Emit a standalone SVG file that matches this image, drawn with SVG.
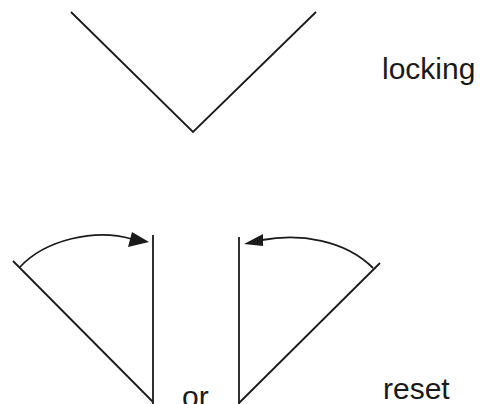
<svg xmlns="http://www.w3.org/2000/svg" width="482" height="404" viewBox="0 0 482 404">
<style>
.ln{fill:none;stroke:#1a1a1a;stroke-width:1.8;stroke-linecap:butt;stroke-linejoin:miter}
.ah{fill:#1a1a1a;stroke:none}
.lbl{font-family:"Liberation Sans",Arial,sans-serif;font-size:30px;fill:#1a1a1a}
</style>
<g id="locking">
<polyline class="ln" points="71,12 193,132 316,12"/>
<text class="lbl" x="382" y="79">locking</text>
</g>
<g id="reset-left">
<line class="ln" x1="13" y1="261" x2="153" y2="402"/>
<line class="ln" x1="153" y1="235" x2="153" y2="404"/>
</g>
<g id="reset-right">
<line class="ln" x1="239" y1="237" x2="239" y2="404"/>
<line class="ln" x1="239" y1="403" x2="380" y2="263"/>
</g>
<g id="connectors">
<path class="ln" d="M20,267 C45,240 95,228 132,239"/>
<polygon class="ah" points="149,242 132,232 128,247"/>
<path class="ln" d="M373,268 C345,240 300,233 262,240"/>
<polygon class="ah" points="244,244 263,234 263,246"/>
</g>
<g id="labels">
<text class="lbl" x="182" y="407">or</text>
<text class="lbl" x="383" y="399">reset</text>
</g>
</svg>
